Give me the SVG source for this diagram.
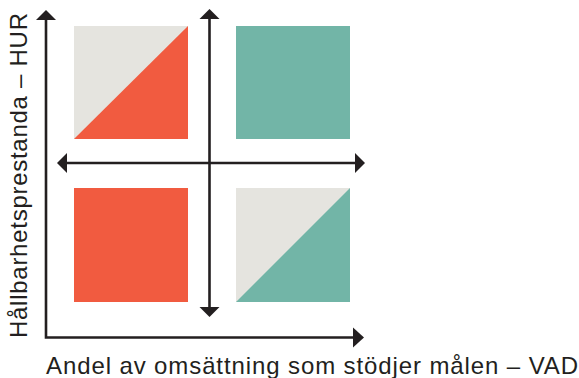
<svg xmlns="http://www.w3.org/2000/svg" width="579" height="378" viewBox="0 0 579 378">
<style>
.ax{stroke:#231f20;stroke-width:2.6;fill:none}
.hd{fill:#231f20}
.red{fill:#f15b40}
.teal{fill:#72b5a7}
.gray{fill:#e5e4df}
.lbl{font-family:"Liberation Sans",Arial,sans-serif;font-size:24px;fill:#231f20}
</style>
<rect width="579" height="378" fill="#ffffff"/>
<g id="q-top-left">
<rect class="gray" x="74" y="26" width="114" height="113"/>
<polygon class="red" points="74,139 188,26 188,139"/>
</g>
<g id="q-top-right">
<rect class="teal" x="236" y="26" width="114" height="113"/>
</g>
<g id="q-bottom-left">
<rect class="red" x="74" y="188" width="114" height="114"/>
</g>
<g id="q-bottom-right">
<rect class="gray" x="236" y="188" width="114" height="114"/>
<polygon class="teal" points="236,302 350,188 350,302"/>
</g>
<g id="connectors">
<path class="ax" d="M46,19 V337.5 H353"/>
<polygon class="hd" points="46,10 56,20 36,20"/>
<polygon class="hd" points="364,337.5 353,327.5 353,347.5"/>
<line class="ax" x1="209.5" y1="18" x2="209.5" y2="308"/>
<polygon class="hd" points="209.5,9 219.5,19 199.5,19"/>
<polygon class="hd" points="209.5,317 219.5,307 199.5,307"/>
<line class="ax" x1="66" y1="163" x2="356" y2="163"/>
<polygon class="hd" points="57,163 67,153 67,173"/>
<polygon class="hd" points="365,163 355,153 355,173"/>
</g>
<g id="labels">
<text class="lbl" x="46" y="374" textLength="532" lengthAdjust="spacing">Andel av omsättning som stödjer målen – VAD</text>
<text class="lbl" transform="translate(26.5,338) rotate(-90)" x="0" y="0" textLength="325" lengthAdjust="spacing">Hållbarhetsprestanda – HUR</text>
</g>
</svg>
